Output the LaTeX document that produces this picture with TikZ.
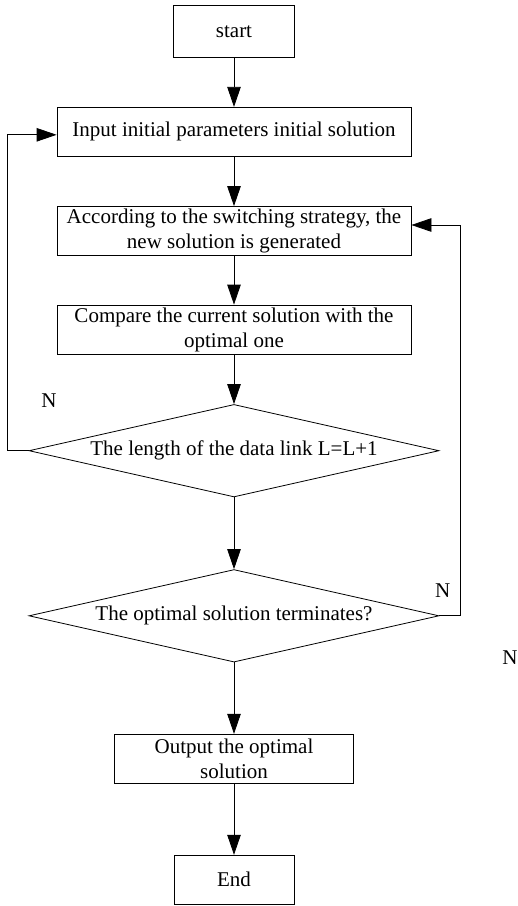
\documentclass[tikz,border=0pt]{standalone}
\usepackage{fontspec}
\setmainfont{Liberation Serif}
\usetikzlibrary{arrows.meta}
\usetikzlibrary{shapes.geometric}
\def\midx{234}
\def\boxw{354pt}

\begin{document}
\begin{tikzpicture}[
    x=1pt, y=-1pt,
    font=\fontsize{21}{25}\selectfont,
    arrowtip/.style={
      -{Triangle[length=20pt,width=13.5pt]}
    },
    flow/.style={
      draw, line width=0.8pt, inner sep=1pt, align=center
    },
    stepbox/.style={
      flow, rectangle, minimum height=49pt
    },
    test/.style={
      flow, diamond, aspect=4.45, inner sep=0pt,
      minimum width=410pt, minimum height=92.5pt
    },
    label/.style={
      inner sep=0pt
    }
  ]
    \useasboundingbox (0,0) rectangle (518,906);

    % boxes
    \node[stepbox,minimum width=120.5pt,minimum height=52.7pt] (start) at (\midx, 31.3) {start};
    \node[stepbox,minimum width=\boxw] (in)  at (\midx, 131.8) {Input initial parameters initial solution};
    \node[stepbox,minimum width=\boxw] (gen) at (\midx, 231) {According to the switching strategy, the\\new solution is generated};
    \node[stepbox,minimum width=\boxw] (cmp) at (\midx, 329.5) {Compare the current solution with the\\optimal one};

    % tests
    \node[test] (len)  at (\midx, 450.7) {The length of the data link L=L+1};
    \node[test] (term) at (\midx, 615.8) {The optimal solution terminates?};

    \node[stepbox,minimum width=239.4pt] (out) at (\midx, 758.7) {Output the optimal\\solution};
    \node[stepbox,minimum width=120pt] (end) at (\midx, 879.7) {End};

    % arrows
    \draw[line width=0.8pt,arrowtip] (start) -- (in);
    \draw[line width=0.8pt,arrowtip] (in)    -- (gen);
    \draw[line width=0.8pt,arrowtip] (gen)   -- (cmp);
    \draw[line width=0.8pt,arrowtip] (cmp)   -- (len);
    \draw[line width=0.8pt,arrowtip] (len)   -- (term);
    \draw[line width=0.8pt,arrowtip] (term)  -- (out);
    \draw[line width=0.8pt,arrowtip] (out)   -- (end);

    % loops
    \draw[line width=0.8pt,arrowtip] (len.west)  -- ++(-21.4,0) |- ([yshift=-3pt]in.west);
    \draw[line width=0.8pt,arrowtip] (term.east) -- ++(21,0)    |- ([yshift=6pt]gen.east);

    \node[label] (nA) at (49, 400.7)  {N};
    \node[label] (nB) at (442.7, 591) {N};
    \node[label] (nC) at (510, 657.7) {N};
  \end{tikzpicture}
\end{document}
